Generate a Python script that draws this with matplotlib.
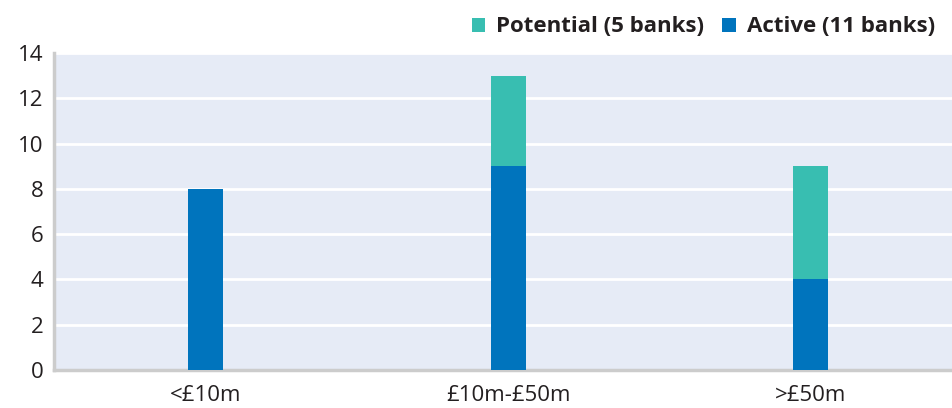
import matplotlib.pyplot as plt
import numpy as np

plt.rcParams['font.family'] = ['Open Sans', 'DejaVu Sans']

# Data
categories = ["<£10m", "£10m-£50m", ">£50m"]
active = [8, 9, 4]
potential = [0, 4, 5]

active_color = "#0074BD"
potential_color = "#38BEB1"

fig, ax = plt.subplots(figsize=(9.53, 4.08), dpi=100)
fig.subplots_adjust(left=0.057, right=1.0, top=0.87, bottom=0.093)

x = np.arange(len(categories))
ax.bar(x, active, width=0.116, color=active_color, label="Active (11 banks)", zorder=3)
ax.bar(x, potential, width=0.116, bottom=active, color=potential_color,
       label="Potential (5 banks)", zorder=3)

ax.set_facecolor("#E6EBF6")
ax.set_xlim(-0.5, 2.47)
ax.set_ylim(0, 14)
ax.set_yticks(range(0, 15, 2))
ax.set_xticks(x)
ax.set_xticklabels(categories)
ax.grid(axis="y", color="white", linewidth=2, zorder=1)
ax.tick_params(axis="both", length=0, labelsize=16, colors="#231F20", pad=8)
ax.tick_params(axis="x", pad=11)

for s in ["top", "right"]:
    ax.spines[s].set_visible(False)
for s in ["left", "bottom"]:
    ax.spines[s].set_color("#CCCCCC")
    ax.spines[s].set_linewidth(2.5)

handles, labels = ax.get_legend_handles_labels()
leg = ax.legend(handles[::-1], labels[::-1], loc="lower right", bbox_to_anchor=(0.997, 1.0),
                ncol=2, frameon=False, handlelength=0.6, handleheight=0.6,
                handletextpad=0.5, columnspacing=0.8, borderaxespad=0.3,
                prop={"weight": "bold", "size": 16})
for t in leg.get_texts():
    t.set_color("#231F20")

plt.savefig("out.png", dpi=100)
